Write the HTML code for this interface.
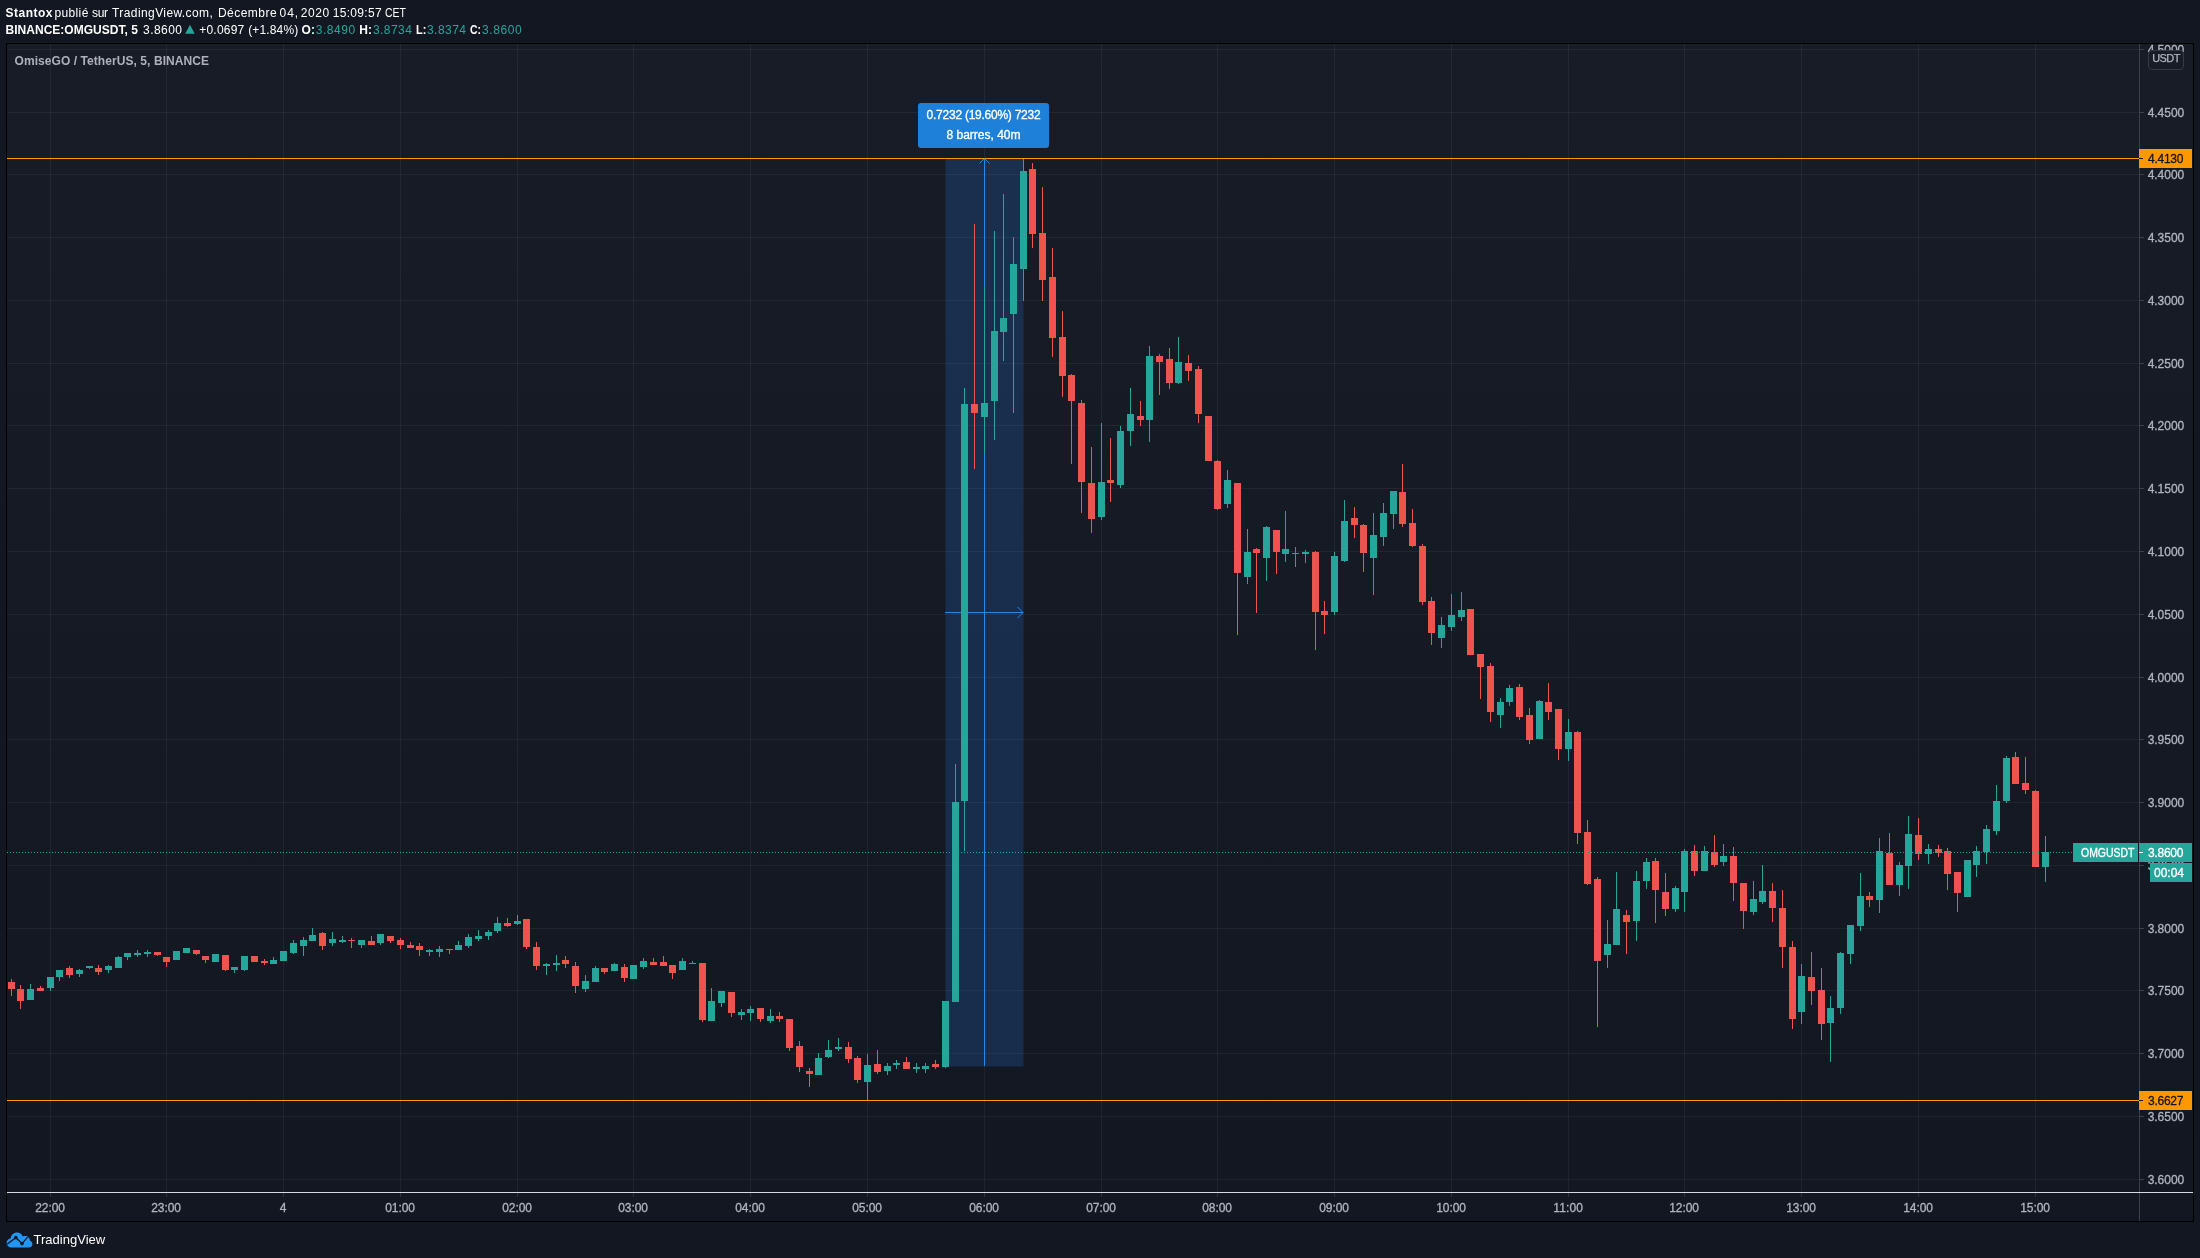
<!DOCTYPE html>
<html><head><meta charset="utf-8"><title>OMGUSDT</title>
<style>
html,body{margin:0;padding:0;}
body{width:2200px;height:1258px;background:#131722;overflow:hidden;position:relative;font-family:"Liberation Sans",sans-serif;color:#fff;}
.abs{position:absolute;white-space:nowrap;}
#txt{position:absolute;left:0;top:0;width:2200px;height:1258px;will-change:transform;}
#chart{position:absolute;left:6px;top:43px;width:2186px;height:1177px;border:1px solid #000;background:linear-gradient(#181c27,#131722);}
svg{position:absolute;left:0;top:0;}
.lab{position:absolute;height:19px;line-height:19px;font-size:12px;white-space:nowrap;}
.lab span{position:absolute;top:1px;-webkit-text-stroke:0.3px currentColor;}
</style></head><body>

<div id="chart"></div>
<svg width="2200" height="1258" viewBox="0 0 2200 1258" shape-rendering="crispEdges"><rect x="7" y="49" width="2132" height="1" fill="rgba(240,243,250,0.06)"/><rect x="7" y="112" width="2132" height="1" fill="rgba(240,243,250,0.06)"/><rect x="7" y="174" width="2132" height="1" fill="rgba(240,243,250,0.06)"/><rect x="7" y="237" width="2132" height="1" fill="rgba(240,243,250,0.06)"/><rect x="7" y="300" width="2132" height="1" fill="rgba(240,243,250,0.06)"/><rect x="7" y="363" width="2132" height="1" fill="rgba(240,243,250,0.06)"/><rect x="7" y="425" width="2132" height="1" fill="rgba(240,243,250,0.06)"/><rect x="7" y="488" width="2132" height="1" fill="rgba(240,243,250,0.06)"/><rect x="7" y="551" width="2132" height="1" fill="rgba(240,243,250,0.06)"/><rect x="7" y="614" width="2132" height="1" fill="rgba(240,243,250,0.06)"/><rect x="7" y="677" width="2132" height="1" fill="rgba(240,243,250,0.06)"/><rect x="7" y="739" width="2132" height="1" fill="rgba(240,243,250,0.06)"/><rect x="7" y="802" width="2132" height="1" fill="rgba(240,243,250,0.06)"/><rect x="7" y="865" width="2132" height="1" fill="rgba(240,243,250,0.06)"/><rect x="7" y="928" width="2132" height="1" fill="rgba(240,243,250,0.06)"/><rect x="7" y="990" width="2132" height="1" fill="rgba(240,243,250,0.06)"/><rect x="7" y="1053" width="2132" height="1" fill="rgba(240,243,250,0.06)"/><rect x="7" y="1116" width="2132" height="1" fill="rgba(240,243,250,0.06)"/><rect x="7" y="1179" width="2132" height="1" fill="rgba(240,243,250,0.06)"/><rect x="50" y="44" width="1" height="1148" fill="rgba(240,243,250,0.06)"/><rect x="166" y="44" width="1" height="1148" fill="rgba(240,243,250,0.06)"/><rect x="283" y="44" width="1" height="1148" fill="rgba(240,243,250,0.06)"/><rect x="400" y="44" width="1" height="1148" fill="rgba(240,243,250,0.06)"/><rect x="517" y="44" width="1" height="1148" fill="rgba(240,243,250,0.06)"/><rect x="633" y="44" width="1" height="1148" fill="rgba(240,243,250,0.06)"/><rect x="750" y="44" width="1" height="1148" fill="rgba(240,243,250,0.06)"/><rect x="867" y="44" width="1" height="1148" fill="rgba(240,243,250,0.06)"/><rect x="984" y="44" width="1" height="1148" fill="rgba(240,243,250,0.06)"/><rect x="1101" y="44" width="1" height="1148" fill="rgba(240,243,250,0.06)"/><rect x="1217" y="44" width="1" height="1148" fill="rgba(240,243,250,0.06)"/><rect x="1334" y="44" width="1" height="1148" fill="rgba(240,243,250,0.06)"/><rect x="1451" y="44" width="1" height="1148" fill="rgba(240,243,250,0.06)"/><rect x="1568" y="44" width="1" height="1148" fill="rgba(240,243,250,0.06)"/><rect x="1684" y="44" width="1" height="1148" fill="rgba(240,243,250,0.06)"/><rect x="1801" y="44" width="1" height="1148" fill="rgba(240,243,250,0.06)"/><rect x="1918" y="44" width="1" height="1148" fill="rgba(240,243,250,0.06)"/><rect x="2035" y="44" width="1" height="1148" fill="rgba(240,243,250,0.06)"/><rect x="945.5" y="158.5" width="78" height="908" fill="rgba(38,125,240,0.2)" shape-rendering="auto"/><rect x="7" y="158" width="2132" height="1" fill="#ff9800"/><rect x="7" y="1100" width="2132" height="1" fill="#ff9800"/><rect x="984" y="159" width="1" height="907" fill="#1f8ae8"/><rect x="945" y="612" width="78" height="1" fill="#1f8ae8"/><path d="M979.5 163.5 L984.5 158.5 L989.5 163.5" fill="none" stroke="#1f8ae8" stroke-width="1" shape-rendering="auto"/><path d="M1017.5 607 L1023 612.5 L1017.5 618" fill="none" stroke="#1f8ae8" stroke-width="1" shape-rendering="auto"/><rect x="11" y="979" width="1" height="17" fill="#ef5350"/><rect x="8" y="982" width="7" height="7" fill="#ef5350"/><rect x="20" y="985" width="1" height="24" fill="#ef5350"/><rect x="17" y="989" width="7" height="12" fill="#ef5350"/><rect x="30" y="984" width="1" height="16" fill="#26a69a"/><rect x="27" y="989" width="7" height="11" fill="#26a69a"/><rect x="40" y="986" width="1" height="5" fill="#ef5350"/><rect x="37" y="988" width="7" height="3" fill="#ef5350"/><rect x="50" y="977" width="1" height="14" fill="#26a69a"/><rect x="47" y="977" width="7" height="11" fill="#26a69a"/><rect x="59" y="970" width="1" height="11" fill="#26a69a"/><rect x="56" y="970" width="7" height="7" fill="#26a69a"/><rect x="69" y="966" width="1" height="12" fill="#ef5350"/><rect x="66" y="968" width="7" height="7" fill="#ef5350"/><rect x="79" y="969" width="1" height="8" fill="#26a69a"/><rect x="76" y="970" width="7" height="4" fill="#26a69a"/><rect x="89" y="966" width="1" height="3" fill="#26a69a"/><rect x="86" y="966" width="7" height="2" fill="#26a69a"/><rect x="98" y="965" width="1" height="10" fill="#ef5350"/><rect x="95" y="968" width="7" height="4" fill="#ef5350"/><rect x="108" y="965" width="1" height="8" fill="#26a69a"/><rect x="105" y="966" width="7" height="4" fill="#26a69a"/><rect x="118" y="956" width="1" height="12" fill="#26a69a"/><rect x="115" y="957" width="7" height="11" fill="#26a69a"/><rect x="127" y="953" width="1" height="7" fill="#26a69a"/><rect x="124" y="953" width="7" height="4" fill="#26a69a"/><rect x="137" y="950" width="1" height="7" fill="#26a69a"/><rect x="134" y="953" width="7" height="2" fill="#26a69a"/><rect x="147" y="950" width="1" height="7" fill="#26a69a"/><rect x="144" y="952" width="7" height="2" fill="#26a69a"/><rect x="157" y="952" width="1" height="4" fill="#ef5350"/><rect x="154" y="952" width="7" height="3" fill="#ef5350"/><rect x="166" y="957" width="1" height="10" fill="#ef5350"/><rect x="163" y="957" width="7" height="5" fill="#ef5350"/><rect x="176" y="951" width="1" height="9" fill="#26a69a"/><rect x="173" y="951" width="7" height="9" fill="#26a69a"/><rect x="186" y="948" width="1" height="5" fill="#26a69a"/><rect x="183" y="948" width="7" height="5" fill="#26a69a"/><rect x="196" y="950" width="1" height="5" fill="#ef5350"/><rect x="193" y="950" width="7" height="4" fill="#ef5350"/><rect x="205" y="956" width="1" height="7" fill="#ef5350"/><rect x="202" y="956" width="7" height="4" fill="#ef5350"/><rect x="215" y="954" width="1" height="8" fill="#26a69a"/><rect x="212" y="954" width="7" height="8" fill="#26a69a"/><rect x="225" y="955" width="1" height="16" fill="#ef5350"/><rect x="222" y="955" width="7" height="15" fill="#ef5350"/><rect x="234" y="967" width="1" height="6" fill="#26a69a"/><rect x="231" y="967" width="7" height="3" fill="#26a69a"/><rect x="244" y="956" width="1" height="15" fill="#26a69a"/><rect x="241" y="956" width="7" height="14" fill="#26a69a"/><rect x="254" y="956" width="1" height="6" fill="#ef5350"/><rect x="251" y="956" width="7" height="6" fill="#ef5350"/><rect x="264" y="959" width="1" height="6" fill="#ef5350"/><rect x="261" y="961" width="7" height="2" fill="#ef5350"/><rect x="273" y="957" width="1" height="7" fill="#26a69a"/><rect x="270" y="960" width="7" height="4" fill="#26a69a"/><rect x="283" y="951" width="1" height="10" fill="#26a69a"/><rect x="280" y="951" width="7" height="10" fill="#26a69a"/><rect x="293" y="940" width="1" height="14" fill="#26a69a"/><rect x="290" y="943" width="7" height="10" fill="#26a69a"/><rect x="303" y="937" width="1" height="19" fill="#26a69a"/><rect x="300" y="940" width="7" height="6" fill="#26a69a"/><rect x="312" y="928" width="1" height="13" fill="#26a69a"/><rect x="309" y="935" width="7" height="6" fill="#26a69a"/><rect x="322" y="932" width="1" height="18" fill="#ef5350"/><rect x="319" y="933" width="7" height="13" fill="#ef5350"/><rect x="332" y="932" width="1" height="14" fill="#26a69a"/><rect x="329" y="939" width="7" height="4" fill="#26a69a"/><rect x="342" y="936" width="1" height="7" fill="#26a69a"/><rect x="339" y="940" width="7" height="2" fill="#26a69a"/><rect x="351" y="938" width="1" height="10" fill="#ef5350"/><rect x="348" y="940" width="7" height="1" fill="#ef5350"/><rect x="361" y="940" width="1" height="8" fill="#26a69a"/><rect x="358" y="940" width="7" height="5" fill="#26a69a"/><rect x="371" y="936" width="1" height="9" fill="#ef5350"/><rect x="368" y="941" width="7" height="4" fill="#ef5350"/><rect x="380" y="934" width="1" height="11" fill="#26a69a"/><rect x="377" y="934" width="7" height="9" fill="#26a69a"/><rect x="390" y="936" width="1" height="7" fill="#ef5350"/><rect x="387" y="936" width="7" height="5" fill="#ef5350"/><rect x="400" y="938" width="1" height="11" fill="#ef5350"/><rect x="397" y="940" width="7" height="5" fill="#ef5350"/><rect x="410" y="942" width="1" height="6" fill="#ef5350"/><rect x="407" y="945" width="7" height="3" fill="#ef5350"/><rect x="419" y="943" width="1" height="13" fill="#ef5350"/><rect x="416" y="946" width="7" height="4" fill="#ef5350"/><rect x="429" y="949" width="1" height="7" fill="#26a69a"/><rect x="426" y="950" width="7" height="2" fill="#26a69a"/><rect x="439" y="946" width="1" height="11" fill="#26a69a"/><rect x="436" y="949" width="7" height="3" fill="#26a69a"/><rect x="449" y="949" width="1" height="5" fill="#ef5350"/><rect x="446" y="949" width="7" height="1" fill="#ef5350"/><rect x="458" y="941" width="1" height="9" fill="#26a69a"/><rect x="455" y="945" width="7" height="5" fill="#26a69a"/><rect x="468" y="934" width="1" height="14" fill="#26a69a"/><rect x="465" y="937" width="7" height="9" fill="#26a69a"/><rect x="478" y="930" width="1" height="11" fill="#26a69a"/><rect x="475" y="936" width="7" height="3" fill="#26a69a"/><rect x="488" y="930" width="1" height="10" fill="#26a69a"/><rect x="485" y="932" width="7" height="4" fill="#26a69a"/><rect x="497" y="917" width="1" height="16" fill="#26a69a"/><rect x="494" y="923" width="7" height="8" fill="#26a69a"/><rect x="507" y="918" width="1" height="9" fill="#ef5350"/><rect x="504" y="923" width="7" height="3" fill="#ef5350"/><rect x="517" y="915" width="1" height="10" fill="#26a69a"/><rect x="514" y="921" width="7" height="3" fill="#26a69a"/><rect x="526" y="919" width="1" height="30" fill="#ef5350"/><rect x="523" y="919" width="7" height="28" fill="#ef5350"/><rect x="536" y="942" width="1" height="28" fill="#ef5350"/><rect x="533" y="947" width="7" height="19" fill="#ef5350"/><rect x="546" y="963" width="1" height="12" fill="#26a69a"/><rect x="543" y="964" width="7" height="2" fill="#26a69a"/><rect x="556" y="955" width="1" height="16" fill="#26a69a"/><rect x="553" y="963" width="7" height="2" fill="#26a69a"/><rect x="565" y="956" width="1" height="12" fill="#ef5350"/><rect x="562" y="960" width="7" height="4" fill="#ef5350"/><rect x="575" y="962" width="1" height="31" fill="#ef5350"/><rect x="572" y="966" width="7" height="20" fill="#ef5350"/><rect x="585" y="975" width="1" height="17" fill="#26a69a"/><rect x="582" y="981" width="7" height="8" fill="#26a69a"/><rect x="595" y="966" width="1" height="16" fill="#26a69a"/><rect x="592" y="968" width="7" height="14" fill="#26a69a"/><rect x="604" y="968" width="1" height="6" fill="#ef5350"/><rect x="601" y="968" width="7" height="4" fill="#ef5350"/><rect x="614" y="963" width="1" height="8" fill="#26a69a"/><rect x="611" y="964" width="7" height="7" fill="#26a69a"/><rect x="624" y="964" width="1" height="18" fill="#ef5350"/><rect x="621" y="967" width="7" height="11" fill="#ef5350"/><rect x="633" y="965" width="1" height="14" fill="#26a69a"/><rect x="630" y="965" width="7" height="14" fill="#26a69a"/><rect x="643" y="958" width="1" height="11" fill="#26a69a"/><rect x="640" y="961" width="7" height="6" fill="#26a69a"/><rect x="653" y="958" width="1" height="7" fill="#ef5350"/><rect x="650" y="962" width="7" height="3" fill="#ef5350"/><rect x="663" y="956" width="1" height="10" fill="#ef5350"/><rect x="660" y="962" width="7" height="4" fill="#ef5350"/><rect x="672" y="965" width="1" height="14" fill="#ef5350"/><rect x="669" y="965" width="7" height="8" fill="#ef5350"/><rect x="682" y="958" width="1" height="12" fill="#26a69a"/><rect x="679" y="961" width="7" height="9" fill="#26a69a"/><rect x="692" y="961" width="1" height="3" fill="#26a69a"/><rect x="689" y="963" width="7" height="1" fill="#26a69a"/><rect x="702" y="963" width="1" height="59" fill="#ef5350"/><rect x="699" y="963" width="7" height="57" fill="#ef5350"/><rect x="711" y="988" width="1" height="33" fill="#26a69a"/><rect x="708" y="1001" width="7" height="20" fill="#26a69a"/><rect x="721" y="991" width="1" height="16" fill="#26a69a"/><rect x="718" y="991" width="7" height="12" fill="#26a69a"/><rect x="731" y="992" width="1" height="25" fill="#ef5350"/><rect x="728" y="992" width="7" height="21" fill="#ef5350"/><rect x="741" y="1009" width="1" height="11" fill="#26a69a"/><rect x="738" y="1012" width="7" height="3" fill="#26a69a"/><rect x="750" y="1006" width="1" height="15" fill="#26a69a"/><rect x="747" y="1009" width="7" height="4" fill="#26a69a"/><rect x="760" y="1008" width="1" height="14" fill="#ef5350"/><rect x="757" y="1008" width="7" height="11" fill="#ef5350"/><rect x="770" y="1009" width="1" height="14" fill="#26a69a"/><rect x="767" y="1016" width="7" height="5" fill="#26a69a"/><rect x="779" y="1012" width="1" height="10" fill="#ef5350"/><rect x="776" y="1016" width="7" height="3" fill="#ef5350"/><rect x="789" y="1019" width="1" height="32" fill="#ef5350"/><rect x="786" y="1019" width="7" height="29" fill="#ef5350"/><rect x="799" y="1041" width="1" height="31" fill="#ef5350"/><rect x="796" y="1046" width="7" height="21" fill="#ef5350"/><rect x="809" y="1068" width="1" height="19" fill="#ef5350"/><rect x="806" y="1071" width="7" height="3" fill="#ef5350"/><rect x="818" y="1053" width="1" height="22" fill="#26a69a"/><rect x="815" y="1058" width="7" height="17" fill="#26a69a"/><rect x="828" y="1040" width="1" height="18" fill="#26a69a"/><rect x="825" y="1050" width="7" height="7" fill="#26a69a"/><rect x="838" y="1038" width="1" height="13" fill="#26a69a"/><rect x="835" y="1047" width="7" height="2" fill="#26a69a"/><rect x="848" y="1042" width="1" height="21" fill="#ef5350"/><rect x="845" y="1047" width="7" height="12" fill="#ef5350"/><rect x="857" y="1056" width="1" height="27" fill="#ef5350"/><rect x="854" y="1058" width="7" height="22" fill="#ef5350"/><rect x="867" y="1054" width="1" height="46" fill="#26a69a"/><rect x="864" y="1065" width="7" height="17" fill="#26a69a"/><rect x="877" y="1050" width="1" height="24" fill="#ef5350"/><rect x="874" y="1064" width="7" height="8" fill="#ef5350"/><rect x="887" y="1063" width="1" height="12" fill="#26a69a"/><rect x="884" y="1066" width="7" height="5" fill="#26a69a"/><rect x="896" y="1060" width="1" height="9" fill="#26a69a"/><rect x="893" y="1063" width="7" height="2" fill="#26a69a"/><rect x="906" y="1057" width="1" height="12" fill="#ef5350"/><rect x="903" y="1062" width="7" height="7" fill="#ef5350"/><rect x="916" y="1063" width="1" height="10" fill="#26a69a"/><rect x="913" y="1067" width="7" height="2" fill="#26a69a"/><rect x="925" y="1063" width="1" height="10" fill="#26a69a"/><rect x="922" y="1066" width="7" height="3" fill="#26a69a"/><rect x="935" y="1060" width="1" height="9" fill="#ef5350"/><rect x="932" y="1064" width="7" height="3" fill="#ef5350"/><rect x="945" y="1001" width="1" height="67" fill="#26a69a"/><rect x="942" y="1001" width="7" height="66" fill="#26a69a"/><rect x="955" y="764" width="1" height="238" fill="#26a69a"/><rect x="952" y="802" width="7" height="200" fill="#26a69a"/><rect x="964" y="388" width="1" height="463" fill="#26a69a"/><rect x="961" y="404" width="7" height="397" fill="#26a69a"/><rect x="974" y="224" width="1" height="245" fill="#ef5350"/><rect x="971" y="404" width="7" height="9" fill="#ef5350"/><rect x="984" y="287" width="1" height="166" fill="#26a69a"/><rect x="981" y="403" width="7" height="14" fill="#26a69a"/><rect x="994" y="231" width="1" height="209" fill="#26a69a"/><rect x="991" y="331" width="7" height="70" fill="#26a69a"/><rect x="1003" y="194" width="1" height="167" fill="#26a69a"/><rect x="1000" y="318" width="7" height="14" fill="#26a69a"/><rect x="1013" y="237" width="1" height="176" fill="#26a69a"/><rect x="1010" y="264" width="7" height="50" fill="#26a69a"/><rect x="1023" y="159" width="1" height="142" fill="#26a69a"/><rect x="1020" y="171" width="7" height="98" fill="#26a69a"/><rect x="1032" y="163" width="1" height="85" fill="#ef5350"/><rect x="1029" y="169" width="7" height="65" fill="#ef5350"/><rect x="1042" y="187" width="1" height="114" fill="#ef5350"/><rect x="1039" y="233" width="7" height="47" fill="#ef5350"/><rect x="1052" y="248" width="1" height="109" fill="#ef5350"/><rect x="1049" y="277" width="7" height="61" fill="#ef5350"/><rect x="1062" y="311" width="1" height="86" fill="#ef5350"/><rect x="1059" y="337" width="7" height="39" fill="#ef5350"/><rect x="1071" y="374" width="1" height="90" fill="#ef5350"/><rect x="1068" y="375" width="7" height="26" fill="#ef5350"/><rect x="1081" y="400" width="1" height="113" fill="#ef5350"/><rect x="1078" y="403" width="7" height="79" fill="#ef5350"/><rect x="1091" y="447" width="1" height="86" fill="#ef5350"/><rect x="1088" y="483" width="7" height="36" fill="#ef5350"/><rect x="1101" y="423" width="1" height="97" fill="#26a69a"/><rect x="1098" y="482" width="7" height="35" fill="#26a69a"/><rect x="1110" y="438" width="1" height="64" fill="#ef5350"/><rect x="1107" y="480" width="7" height="3" fill="#ef5350"/><rect x="1120" y="426" width="1" height="62" fill="#26a69a"/><rect x="1117" y="431" width="7" height="54" fill="#26a69a"/><rect x="1130" y="388" width="1" height="58" fill="#26a69a"/><rect x="1127" y="414" width="7" height="17" fill="#26a69a"/><rect x="1140" y="401" width="1" height="25" fill="#ef5350"/><rect x="1137" y="416" width="7" height="4" fill="#ef5350"/><rect x="1149" y="346" width="1" height="96" fill="#26a69a"/><rect x="1146" y="356" width="7" height="64" fill="#26a69a"/><rect x="1159" y="354" width="1" height="41" fill="#ef5350"/><rect x="1156" y="356" width="7" height="6" fill="#ef5350"/><rect x="1169" y="348" width="1" height="41" fill="#ef5350"/><rect x="1166" y="359" width="7" height="24" fill="#ef5350"/><rect x="1178" y="337" width="1" height="47" fill="#26a69a"/><rect x="1175" y="362" width="7" height="21" fill="#26a69a"/><rect x="1188" y="355" width="1" height="26" fill="#ef5350"/><rect x="1185" y="363" width="7" height="8" fill="#ef5350"/><rect x="1198" y="366" width="1" height="57" fill="#ef5350"/><rect x="1195" y="369" width="7" height="45" fill="#ef5350"/><rect x="1208" y="416" width="1" height="45" fill="#ef5350"/><rect x="1205" y="416" width="7" height="45" fill="#ef5350"/><rect x="1217" y="460" width="1" height="50" fill="#ef5350"/><rect x="1214" y="461" width="7" height="48" fill="#ef5350"/><rect x="1227" y="470" width="1" height="38" fill="#26a69a"/><rect x="1224" y="480" width="7" height="24" fill="#26a69a"/><rect x="1237" y="483" width="1" height="152" fill="#ef5350"/><rect x="1234" y="483" width="7" height="90" fill="#ef5350"/><rect x="1247" y="529" width="1" height="55" fill="#26a69a"/><rect x="1244" y="552" width="7" height="25" fill="#26a69a"/><rect x="1256" y="548" width="1" height="65" fill="#ef5350"/><rect x="1253" y="549" width="7" height="4" fill="#ef5350"/><rect x="1266" y="526" width="1" height="55" fill="#26a69a"/><rect x="1263" y="527" width="7" height="31" fill="#26a69a"/><rect x="1276" y="530" width="1" height="44" fill="#ef5350"/><rect x="1273" y="530" width="7" height="22" fill="#ef5350"/><rect x="1285" y="511" width="1" height="51" fill="#26a69a"/><rect x="1282" y="549" width="7" height="5" fill="#26a69a"/><rect x="1295" y="547" width="1" height="20" fill="#26a69a"/><rect x="1292" y="553" width="7" height="1" fill="#26a69a"/><rect x="1305" y="550" width="1" height="13" fill="#26a69a"/><rect x="1302" y="552" width="7" height="2" fill="#26a69a"/><rect x="1315" y="551" width="1" height="99" fill="#ef5350"/><rect x="1312" y="552" width="7" height="60" fill="#ef5350"/><rect x="1324" y="601" width="1" height="33" fill="#ef5350"/><rect x="1321" y="611" width="7" height="4" fill="#ef5350"/><rect x="1334" y="552" width="1" height="63" fill="#26a69a"/><rect x="1331" y="556" width="7" height="56" fill="#26a69a"/><rect x="1344" y="500" width="1" height="62" fill="#26a69a"/><rect x="1341" y="521" width="7" height="40" fill="#26a69a"/><rect x="1354" y="507" width="1" height="31" fill="#ef5350"/><rect x="1351" y="518" width="7" height="7" fill="#ef5350"/><rect x="1363" y="524" width="1" height="48" fill="#ef5350"/><rect x="1360" y="525" width="7" height="28" fill="#ef5350"/><rect x="1373" y="513" width="1" height="82" fill="#26a69a"/><rect x="1370" y="535" width="7" height="23" fill="#26a69a"/><rect x="1383" y="503" width="1" height="43" fill="#26a69a"/><rect x="1380" y="513" width="7" height="24" fill="#26a69a"/><rect x="1393" y="491" width="1" height="38" fill="#26a69a"/><rect x="1390" y="491" width="7" height="23" fill="#26a69a"/><rect x="1402" y="464" width="1" height="63" fill="#ef5350"/><rect x="1399" y="492" width="7" height="32" fill="#ef5350"/><rect x="1412" y="509" width="1" height="38" fill="#ef5350"/><rect x="1409" y="523" width="7" height="23" fill="#ef5350"/><rect x="1422" y="544" width="1" height="61" fill="#ef5350"/><rect x="1419" y="546" width="7" height="56" fill="#ef5350"/><rect x="1431" y="597" width="1" height="48" fill="#ef5350"/><rect x="1428" y="601" width="7" height="32" fill="#ef5350"/><rect x="1441" y="617" width="1" height="31" fill="#26a69a"/><rect x="1438" y="625" width="7" height="13" fill="#26a69a"/><rect x="1451" y="594" width="1" height="37" fill="#26a69a"/><rect x="1448" y="615" width="7" height="12" fill="#26a69a"/><rect x="1461" y="592" width="1" height="29" fill="#26a69a"/><rect x="1458" y="610" width="7" height="7" fill="#26a69a"/><rect x="1470" y="609" width="1" height="46" fill="#ef5350"/><rect x="1467" y="609" width="7" height="46" fill="#ef5350"/><rect x="1480" y="654" width="1" height="45" fill="#ef5350"/><rect x="1477" y="654" width="7" height="13" fill="#ef5350"/><rect x="1490" y="663" width="1" height="59" fill="#ef5350"/><rect x="1487" y="666" width="7" height="46" fill="#ef5350"/><rect x="1500" y="698" width="1" height="30" fill="#26a69a"/><rect x="1497" y="702" width="7" height="13" fill="#26a69a"/><rect x="1509" y="685" width="1" height="21" fill="#26a69a"/><rect x="1506" y="688" width="7" height="14" fill="#26a69a"/><rect x="1519" y="684" width="1" height="36" fill="#ef5350"/><rect x="1516" y="687" width="7" height="30" fill="#ef5350"/><rect x="1529" y="708" width="1" height="36" fill="#ef5350"/><rect x="1526" y="715" width="7" height="25" fill="#ef5350"/><rect x="1539" y="700" width="1" height="39" fill="#26a69a"/><rect x="1536" y="701" width="7" height="38" fill="#26a69a"/><rect x="1548" y="683" width="1" height="37" fill="#ef5350"/><rect x="1545" y="702" width="7" height="10" fill="#ef5350"/><rect x="1558" y="709" width="1" height="51" fill="#ef5350"/><rect x="1555" y="709" width="7" height="40" fill="#ef5350"/><rect x="1568" y="719" width="1" height="42" fill="#26a69a"/><rect x="1565" y="732" width="7" height="17" fill="#26a69a"/><rect x="1577" y="731" width="1" height="113" fill="#ef5350"/><rect x="1574" y="732" width="7" height="101" fill="#ef5350"/><rect x="1587" y="820" width="1" height="65" fill="#ef5350"/><rect x="1584" y="832" width="7" height="52" fill="#ef5350"/><rect x="1597" y="877" width="1" height="150" fill="#ef5350"/><rect x="1594" y="879" width="7" height="82" fill="#ef5350"/><rect x="1607" y="920" width="1" height="48" fill="#26a69a"/><rect x="1604" y="944" width="7" height="11" fill="#26a69a"/><rect x="1616" y="872" width="1" height="73" fill="#26a69a"/><rect x="1613" y="909" width="7" height="36" fill="#26a69a"/><rect x="1626" y="910" width="1" height="44" fill="#ef5350"/><rect x="1623" y="915" width="7" height="7" fill="#ef5350"/><rect x="1636" y="871" width="1" height="70" fill="#26a69a"/><rect x="1633" y="881" width="7" height="40" fill="#26a69a"/><rect x="1646" y="858" width="1" height="31" fill="#26a69a"/><rect x="1643" y="862" width="7" height="19" fill="#26a69a"/><rect x="1655" y="858" width="1" height="65" fill="#ef5350"/><rect x="1652" y="861" width="7" height="29" fill="#ef5350"/><rect x="1665" y="873" width="1" height="43" fill="#ef5350"/><rect x="1662" y="892" width="7" height="17" fill="#ef5350"/><rect x="1675" y="886" width="1" height="26" fill="#26a69a"/><rect x="1672" y="888" width="7" height="21" fill="#26a69a"/><rect x="1684" y="849" width="1" height="63" fill="#26a69a"/><rect x="1681" y="851" width="7" height="41" fill="#26a69a"/><rect x="1694" y="845" width="1" height="31" fill="#ef5350"/><rect x="1691" y="851" width="7" height="20" fill="#ef5350"/><rect x="1704" y="846" width="1" height="25" fill="#26a69a"/><rect x="1701" y="851" width="7" height="20" fill="#26a69a"/><rect x="1714" y="835" width="1" height="32" fill="#ef5350"/><rect x="1711" y="852" width="7" height="13" fill="#ef5350"/><rect x="1723" y="844" width="1" height="22" fill="#26a69a"/><rect x="1720" y="856" width="7" height="6" fill="#26a69a"/><rect x="1733" y="847" width="1" height="54" fill="#ef5350"/><rect x="1730" y="856" width="7" height="27" fill="#ef5350"/><rect x="1743" y="883" width="1" height="46" fill="#ef5350"/><rect x="1740" y="883" width="7" height="28" fill="#ef5350"/><rect x="1753" y="881" width="1" height="34" fill="#26a69a"/><rect x="1750" y="899" width="7" height="13" fill="#26a69a"/><rect x="1762" y="865" width="1" height="39" fill="#26a69a"/><rect x="1759" y="891" width="7" height="11" fill="#26a69a"/><rect x="1772" y="883" width="1" height="39" fill="#ef5350"/><rect x="1769" y="891" width="7" height="17" fill="#ef5350"/><rect x="1782" y="890" width="1" height="78" fill="#ef5350"/><rect x="1779" y="908" width="7" height="39" fill="#ef5350"/><rect x="1792" y="941" width="1" height="88" fill="#ef5350"/><rect x="1789" y="947" width="7" height="72" fill="#ef5350"/><rect x="1801" y="964" width="1" height="60" fill="#26a69a"/><rect x="1798" y="976" width="7" height="36" fill="#26a69a"/><rect x="1811" y="952" width="1" height="53" fill="#ef5350"/><rect x="1808" y="977" width="7" height="14" fill="#ef5350"/><rect x="1821" y="968" width="1" height="72" fill="#ef5350"/><rect x="1818" y="990" width="7" height="34" fill="#ef5350"/><rect x="1830" y="996" width="1" height="66" fill="#26a69a"/><rect x="1827" y="1008" width="7" height="15" fill="#26a69a"/><rect x="1840" y="952" width="1" height="62" fill="#26a69a"/><rect x="1837" y="953" width="7" height="55" fill="#26a69a"/><rect x="1850" y="925" width="1" height="39" fill="#26a69a"/><rect x="1847" y="925" width="7" height="29" fill="#26a69a"/><rect x="1860" y="873" width="1" height="58" fill="#26a69a"/><rect x="1857" y="896" width="7" height="30" fill="#26a69a"/><rect x="1869" y="892" width="1" height="15" fill="#ef5350"/><rect x="1866" y="896" width="7" height="4" fill="#ef5350"/><rect x="1879" y="838" width="1" height="75" fill="#26a69a"/><rect x="1876" y="851" width="7" height="49" fill="#26a69a"/><rect x="1889" y="833" width="1" height="52" fill="#ef5350"/><rect x="1886" y="853" width="7" height="32" fill="#ef5350"/><rect x="1899" y="862" width="1" height="34" fill="#26a69a"/><rect x="1896" y="865" width="7" height="20" fill="#26a69a"/><rect x="1908" y="816" width="1" height="73" fill="#26a69a"/><rect x="1905" y="834" width="7" height="32" fill="#26a69a"/><rect x="1918" y="818" width="1" height="42" fill="#ef5350"/><rect x="1915" y="835" width="7" height="19" fill="#ef5350"/><rect x="1928" y="844" width="1" height="20" fill="#26a69a"/><rect x="1925" y="849" width="7" height="5" fill="#26a69a"/><rect x="1938" y="845" width="1" height="12" fill="#ef5350"/><rect x="1935" y="849" width="7" height="4" fill="#ef5350"/><rect x="1947" y="848" width="1" height="42" fill="#ef5350"/><rect x="1944" y="851" width="7" height="23" fill="#ef5350"/><rect x="1957" y="872" width="1" height="40" fill="#ef5350"/><rect x="1954" y="872" width="7" height="21" fill="#ef5350"/><rect x="1967" y="860" width="1" height="37" fill="#26a69a"/><rect x="1964" y="860" width="7" height="37" fill="#26a69a"/><rect x="1976" y="846" width="1" height="31" fill="#26a69a"/><rect x="1973" y="851" width="7" height="14" fill="#26a69a"/><rect x="1986" y="825" width="1" height="39" fill="#26a69a"/><rect x="1983" y="829" width="7" height="23" fill="#26a69a"/><rect x="1996" y="785" width="1" height="50" fill="#26a69a"/><rect x="1993" y="801" width="7" height="30" fill="#26a69a"/><rect x="2006" y="756" width="1" height="47" fill="#26a69a"/><rect x="2003" y="758" width="7" height="43" fill="#26a69a"/><rect x="2015" y="752" width="1" height="32" fill="#ef5350"/><rect x="2012" y="757" width="7" height="27" fill="#ef5350"/><rect x="2025" y="757" width="1" height="37" fill="#ef5350"/><rect x="2022" y="783" width="7" height="7" fill="#ef5350"/><rect x="2035" y="790" width="1" height="77" fill="#ef5350"/><rect x="2032" y="791" width="7" height="76" fill="#ef5350"/><rect x="2045" y="836" width="1" height="46" fill="#26a69a"/><rect x="2042" y="852" width="7" height="15" fill="#26a69a"/><path d="M7 852.5 H2073" stroke="#26a69a" stroke-width="1" stroke-dasharray="1 2" fill="none"/><rect x="2139" y="44" width="1" height="1177" fill="#3c404b"/><rect x="2140" y="49" width="4" height="1" fill="#3c404b"/><rect x="2140" y="112" width="4" height="1" fill="#3c404b"/><rect x="2140" y="174" width="4" height="1" fill="#3c404b"/><rect x="2140" y="237" width="4" height="1" fill="#3c404b"/><rect x="2140" y="300" width="4" height="1" fill="#3c404b"/><rect x="2140" y="363" width="4" height="1" fill="#3c404b"/><rect x="2140" y="425" width="4" height="1" fill="#3c404b"/><rect x="2140" y="488" width="4" height="1" fill="#3c404b"/><rect x="2140" y="551" width="4" height="1" fill="#3c404b"/><rect x="2140" y="614" width="4" height="1" fill="#3c404b"/><rect x="2140" y="677" width="4" height="1" fill="#3c404b"/><rect x="2140" y="739" width="4" height="1" fill="#3c404b"/><rect x="2140" y="802" width="4" height="1" fill="#3c404b"/><rect x="2140" y="865" width="4" height="1" fill="#3c404b"/><rect x="2140" y="928" width="4" height="1" fill="#3c404b"/><rect x="2140" y="990" width="4" height="1" fill="#3c404b"/><rect x="2140" y="1053" width="4" height="1" fill="#3c404b"/><rect x="2140" y="1116" width="4" height="1" fill="#3c404b"/><rect x="2140" y="1179" width="4" height="1" fill="#3c404b"/><rect x="50" y="1193" width="1" height="4" fill="#2e323d"/><rect x="166" y="1193" width="1" height="4" fill="#2e323d"/><rect x="283" y="1193" width="1" height="4" fill="#2e323d"/><rect x="400" y="1193" width="1" height="4" fill="#2e323d"/><rect x="517" y="1193" width="1" height="4" fill="#2e323d"/><rect x="633" y="1193" width="1" height="4" fill="#2e323d"/><rect x="750" y="1193" width="1" height="4" fill="#2e323d"/><rect x="867" y="1193" width="1" height="4" fill="#2e323d"/><rect x="984" y="1193" width="1" height="4" fill="#2e323d"/><rect x="1101" y="1193" width="1" height="4" fill="#2e323d"/><rect x="1217" y="1193" width="1" height="4" fill="#2e323d"/><rect x="1334" y="1193" width="1" height="4" fill="#2e323d"/><rect x="1451" y="1193" width="1" height="4" fill="#2e323d"/><rect x="1568" y="1193" width="1" height="4" fill="#2e323d"/><rect x="1684" y="1193" width="1" height="4" fill="#2e323d"/><rect x="1801" y="1193" width="1" height="4" fill="#2e323d"/><rect x="1918" y="1193" width="1" height="4" fill="#2e323d"/><rect x="2035" y="1193" width="1" height="4" fill="#2e323d"/><rect x="7" y="1192" width="2186" height="1" fill="#d6d9e0"/></svg>
<div id="txt">
<div class="abs" style="left:5.59px;top:5px;font-size:12px;line-height:16px;letter-spacing:0.469px;color:#fff;font-weight:bold;">Stantox</div>
<div class="abs" style="left:54.49px;top:5px;font-size:12px;line-height:16px;letter-spacing:0.359px;color:#fff;">publié</div>
<div class="abs" style="left:91.99px;top:5px;font-size:12px;line-height:16px;letter-spacing:-0.325px;color:#fff;">sur</div>
<div class="abs" style="left:112.09px;top:5px;font-size:12px;line-height:16px;letter-spacing:0.401px;color:#fff;">TradingView.com,</div>
<div class="abs" style="left:217.89px;top:5px;font-size:12px;line-height:16px;letter-spacing:0.481px;color:#fff;">Décembre</div>
<div class="abs" style="left:279.49px;top:5px;font-size:12px;line-height:16px;letter-spacing:1.019px;color:#fff;">04,</div>
<div class="abs" style="left:300.69px;top:5px;font-size:12px;line-height:16px;letter-spacing:0.575px;color:#fff;">2020</div>
<div class="abs" style="left:332.69px;top:5px;font-size:12px;line-height:16px;letter-spacing:0.316px;color:#fff;">15:09:57</div>
<div class="abs" style="left:384.99px;top:5px;font-size:12px;line-height:16px;color:#fff;transform-origin:0 50%;transform:scaleX(0.8675);">CET</div>
<div class="abs" style="left:5.59px;top:22px;font-size:12px;line-height:16px;letter-spacing:0.015px;color:#fff;font-weight:bold;">BINANCE:OMGUSDT,</div>
<div class="abs" style="left:131.16px;top:22px;font-size:12px;line-height:16px;letter-spacing:0.000px;color:#fff;font-weight:bold;">5</div>
<div class="abs" style="left:143.09px;top:22px;font-size:12px;line-height:16px;letter-spacing:0.423px;color:#fff;">3.8600</div>
<div class="abs" style="left:199.29px;top:22px;font-size:12px;line-height:16px;letter-spacing:0.202px;color:#fff;">+0.0697</div>
<div class="abs" style="left:248.19px;top:22px;font-size:12px;line-height:16px;letter-spacing:0.142px;color:#fff;">(+1.84%)</div>
<div class="abs" style="left:301.49px;top:22px;font-size:12px;line-height:16px;letter-spacing:0.090px;color:#fff;font-weight:bold;">O:</div>
<div class="abs" style="left:315.69px;top:22px;font-size:12px;line-height:16px;letter-spacing:0.543px;color:#26a69a;">3.8490</div>
<div class="abs" style="left:359.19px;top:22px;font-size:12px;line-height:16px;letter-spacing:0.258px;color:#fff;font-weight:bold;">H:</div>
<div class="abs" style="left:372.89px;top:22px;font-size:12px;line-height:16px;letter-spacing:0.463px;color:#26a69a;">3.8734</div>
<div class="abs" style="left:416.19px;top:22px;font-size:12px;line-height:16px;color:#fff;transform-origin:0 50%;transform:scaleX(0.9112);font-weight:bold;">L:</div>
<div class="abs" style="left:426.99px;top:22px;font-size:12px;line-height:16px;letter-spacing:0.463px;color:#26a69a;">3.8374</div>
<div class="abs" style="left:469.99px;top:22px;font-size:12px;line-height:16px;color:#fff;transform-origin:0 50%;transform:scaleX(0.8703);font-weight:bold;">C:</div>
<div class="abs" style="left:481.99px;top:22px;font-size:12px;line-height:16px;letter-spacing:0.603px;color:#26a69a;">3.8600</div>
<div class="abs" style="left:14.49px;top:53px;font-size:12px;line-height:16px;letter-spacing:0.070px;color:#aeb1ba;font-weight:bold;">OmiseGO / TetherUS, 5, BINANCE</div>
<div class="abs" style="left:2147.69px;top:43px;font-size:12px;line-height:14px;letter-spacing:-0.037px;color:#b2b5be;-webkit-text-stroke:0.3px #b2b5be;">4.5000</div>
<div class="abs" style="left:2147.69px;top:106px;font-size:12px;line-height:14px;letter-spacing:-0.037px;color:#b2b5be;-webkit-text-stroke:0.3px #b2b5be;">4.4500</div>
<div class="abs" style="left:2147.69px;top:168px;font-size:12px;line-height:14px;letter-spacing:-0.037px;color:#b2b5be;-webkit-text-stroke:0.3px #b2b5be;">4.4000</div>
<div class="abs" style="left:2147.69px;top:231px;font-size:12px;line-height:14px;letter-spacing:-0.037px;color:#b2b5be;-webkit-text-stroke:0.3px #b2b5be;">4.3500</div>
<div class="abs" style="left:2147.69px;top:294px;font-size:12px;line-height:14px;letter-spacing:-0.037px;color:#b2b5be;-webkit-text-stroke:0.3px #b2b5be;">4.3000</div>
<div class="abs" style="left:2147.69px;top:357px;font-size:12px;line-height:14px;letter-spacing:-0.037px;color:#b2b5be;-webkit-text-stroke:0.3px #b2b5be;">4.2500</div>
<div class="abs" style="left:2147.69px;top:419px;font-size:12px;line-height:14px;letter-spacing:-0.037px;color:#b2b5be;-webkit-text-stroke:0.3px #b2b5be;">4.2000</div>
<div class="abs" style="left:2147.69px;top:482px;font-size:12px;line-height:14px;letter-spacing:-0.037px;color:#b2b5be;-webkit-text-stroke:0.3px #b2b5be;">4.1500</div>
<div class="abs" style="left:2147.69px;top:545px;font-size:12px;line-height:14px;letter-spacing:-0.037px;color:#b2b5be;-webkit-text-stroke:0.3px #b2b5be;">4.1000</div>
<div class="abs" style="left:2147.69px;top:608px;font-size:12px;line-height:14px;letter-spacing:-0.037px;color:#b2b5be;-webkit-text-stroke:0.3px #b2b5be;">4.0500</div>
<div class="abs" style="left:2147.69px;top:671px;font-size:12px;line-height:14px;letter-spacing:-0.037px;color:#b2b5be;-webkit-text-stroke:0.3px #b2b5be;">4.0000</div>
<div class="abs" style="left:2147.69px;top:733px;font-size:12px;line-height:14px;letter-spacing:-0.037px;color:#b2b5be;-webkit-text-stroke:0.3px #b2b5be;">3.9500</div>
<div class="abs" style="left:2147.69px;top:796px;font-size:12px;line-height:14px;letter-spacing:-0.037px;color:#b2b5be;-webkit-text-stroke:0.3px #b2b5be;">3.9000</div>
<div class="abs" style="left:2147.69px;top:859px;font-size:12px;line-height:14px;letter-spacing:-0.037px;color:#b2b5be;-webkit-text-stroke:0.3px #b2b5be;">3.8500</div>
<div class="abs" style="left:2147.69px;top:922px;font-size:12px;line-height:14px;letter-spacing:-0.037px;color:#b2b5be;-webkit-text-stroke:0.3px #b2b5be;">3.8000</div>
<div class="abs" style="left:2147.69px;top:984px;font-size:12px;line-height:14px;letter-spacing:-0.037px;color:#b2b5be;-webkit-text-stroke:0.3px #b2b5be;">3.7500</div>
<div class="abs" style="left:2147.69px;top:1047px;font-size:12px;line-height:14px;letter-spacing:-0.037px;color:#b2b5be;-webkit-text-stroke:0.3px #b2b5be;">3.7000</div>
<div class="abs" style="left:2147.69px;top:1110px;font-size:12px;line-height:14px;letter-spacing:-0.037px;color:#b2b5be;-webkit-text-stroke:0.3px #b2b5be;">3.6500</div>
<div class="abs" style="left:2147.69px;top:1173px;font-size:12px;line-height:14px;letter-spacing:-0.037px;color:#b2b5be;-webkit-text-stroke:0.3px #b2b5be;">3.6000</div>
<div class="abs" style="left:35.19px;top:1201px;font-size:12px;line-height:14px;letter-spacing:-0.052px;color:#b2b5be;-webkit-text-stroke:0.3px #b2b5be;">22:00</div>
<div class="abs" style="left:151.19px;top:1201px;font-size:12px;line-height:14px;letter-spacing:-0.052px;color:#b2b5be;-webkit-text-stroke:0.3px #b2b5be;">23:00</div>
<div class="abs" style="left:279.76px;top:1201px;font-size:12px;line-height:14px;letter-spacing:0.000px;color:#b2b5be;-webkit-text-stroke:0.3px #b2b5be;">4</div>
<div class="abs" style="left:385.19px;top:1201px;font-size:12px;line-height:14px;letter-spacing:-0.052px;color:#b2b5be;-webkit-text-stroke:0.3px #b2b5be;">01:00</div>
<div class="abs" style="left:502.19px;top:1201px;font-size:12px;line-height:14px;letter-spacing:-0.052px;color:#b2b5be;-webkit-text-stroke:0.3px #b2b5be;">02:00</div>
<div class="abs" style="left:618.19px;top:1201px;font-size:12px;line-height:14px;letter-spacing:-0.052px;color:#b2b5be;-webkit-text-stroke:0.3px #b2b5be;">03:00</div>
<div class="abs" style="left:735.19px;top:1201px;font-size:12px;line-height:14px;letter-spacing:-0.052px;color:#b2b5be;-webkit-text-stroke:0.3px #b2b5be;">04:00</div>
<div class="abs" style="left:852.19px;top:1201px;font-size:12px;line-height:14px;letter-spacing:-0.052px;color:#b2b5be;-webkit-text-stroke:0.3px #b2b5be;">05:00</div>
<div class="abs" style="left:969.19px;top:1201px;font-size:12px;line-height:14px;letter-spacing:-0.052px;color:#b2b5be;-webkit-text-stroke:0.3px #b2b5be;">06:00</div>
<div class="abs" style="left:1086.19px;top:1201px;font-size:12px;line-height:14px;letter-spacing:-0.052px;color:#b2b5be;-webkit-text-stroke:0.3px #b2b5be;">07:00</div>
<div class="abs" style="left:1202.19px;top:1201px;font-size:12px;line-height:14px;letter-spacing:-0.052px;color:#b2b5be;-webkit-text-stroke:0.3px #b2b5be;">08:00</div>
<div class="abs" style="left:1319.19px;top:1201px;font-size:12px;line-height:14px;letter-spacing:-0.052px;color:#b2b5be;-webkit-text-stroke:0.3px #b2b5be;">09:00</div>
<div class="abs" style="left:1436.19px;top:1201px;font-size:12px;line-height:14px;letter-spacing:-0.052px;color:#b2b5be;-webkit-text-stroke:0.3px #b2b5be;">10:00</div>
<div class="abs" style="left:1553.19px;top:1201px;font-size:12px;line-height:14px;letter-spacing:0.170px;color:#b2b5be;-webkit-text-stroke:0.3px #b2b5be;">11:00</div>
<div class="abs" style="left:1669.19px;top:1201px;font-size:12px;line-height:14px;letter-spacing:-0.052px;color:#b2b5be;-webkit-text-stroke:0.3px #b2b5be;">12:00</div>
<div class="abs" style="left:1786.19px;top:1201px;font-size:12px;line-height:14px;letter-spacing:-0.052px;color:#b2b5be;-webkit-text-stroke:0.3px #b2b5be;">13:00</div>
<div class="abs" style="left:1903.19px;top:1201px;font-size:12px;line-height:14px;letter-spacing:-0.052px;color:#b2b5be;-webkit-text-stroke:0.3px #b2b5be;">14:00</div>
<div class="abs" style="left:2020.19px;top:1201px;font-size:12px;line-height:14px;letter-spacing:-0.052px;color:#b2b5be;-webkit-text-stroke:0.3px #b2b5be;">15:00</div>
<div class="abs" style="left:33.55px;top:1232px;font-size:13px;line-height:16px;letter-spacing:0.017px;color:#fff;">TradingView</div>
<svg style="left:185px;top:24px" width="10" height="10" viewBox="0 0 10 10"><path d="M0.2 9.7 L5 0.8 L9.7 9.7 Z" fill="#26a69a"/></svg>
<div class="abs" style="left:2148px;top:50px;width:34px;height:18px;border:1px solid #363a45;border-radius:4px;background:#181c27;font-size:11px;line-height:15px;text-align:center;color:#b2b5be;letter-spacing:-0.55px;-webkit-text-stroke:0.25px #b2b5be;">USDT</div>
<div class="lab" style="left:2139px;top:149px;width:53px;background:#ff9800;color:#131722;"><i style="position:absolute;left:0;top:9px;width:4px;height:1px;background:#131722"></i><span style="left:9px;letter-spacing:-0.25px;">4.4130</span></div>
<div class="lab" style="left:2139px;top:1091px;width:53px;background:#ff9800;color:#131722;"><i style="position:absolute;left:0;top:9px;width:4px;height:1px;background:#131722"></i><span style="left:9px;letter-spacing:-0.25px;">3.6627</span></div>
<div class="lab" style="left:2073px;top:843px;width:65px;background:#26a69a;color:#fff;"><span style="left:7.6px;transform-origin:0 50%;transform:scaleX(0.872);">OMGUSDT</span></div>
<div class="lab" style="left:2139px;top:843px;width:53px;background:#26a69a;color:#fff;"><i style="position:absolute;left:0;top:9px;width:4px;height:1px;background:#fff"></i><span style="left:9px;letter-spacing:-0.25px;">3.8600</span></div>
<div class="lab" style="left:2150px;top:863px;width:42px;background:#26a69a;color:#fff;"><span style="left:4px;">00:04</span></div>
<div class="abs" style="left:918px;top:103px;width:131px;height:45px;border-radius:3px;background:#1e80d8;color:#fff;font-size:12px;text-align:center;-webkit-text-stroke:0.3px #fff;"><div style="position:absolute;left:0;width:131px;top:5px;line-height:14px;letter-spacing:-0.25px;">0.7232 (19.60%) 7232</div><div style="position:absolute;left:0;width:131px;top:25px;line-height:14px;">8 barres, 40m</div></div>
</div>
<svg style="left:5.5px;top:1231.6px" width="27" height="16.4" viewBox="0 0 28 17" shape-rendering="auto">
<path d="M6.2 16.2 C2.6 16.2 0.6 13.8 0.6 11.2 C0.6 8.6 2.6 6.6 5 6.4 C5.2 3 8 0.6 11.4 0.6 C14.2 0.6 16.4 2.2 17.4 4.6 C18 4.4 18.8 4.2 19.6 4.2 C22.6 4.2 24.8 6.4 25 9.2 C26.4 9.8 27.4 11.2 27.4 12.8 C27.4 14.8 25.8 16.2 23.8 16.2 Z" fill="#2196f3"/>
<path d="M1 12.6 L10.2 5.9 L16.6 12 L22.4 5.4" fill="none" stroke="#131722" stroke-width="1.3"/>
<circle cx="10.2" cy="5.9" r="1.9" fill="#131722"/><circle cx="16.6" cy="12" r="1.9" fill="#131722"/>
</svg>
</body></html>
